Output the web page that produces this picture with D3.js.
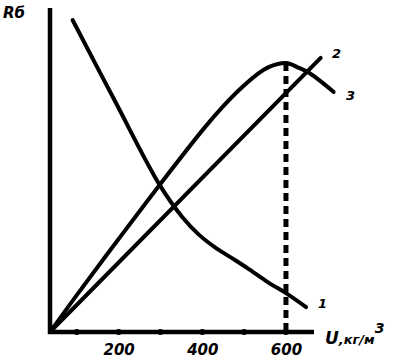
<!DOCTYPE html>
<html><head><meta charset="utf-8">
<script src="https://cdn.jsdelivr.net/npm/d3@7"></script>
<style>body{margin:0;background:#fff}svg{display:block}
text{font-family:"DejaVu Sans",sans-serif;font-weight:bold;font-style:italic;fill:#000}</style>
</head><body>
<script>
// U, kg/m3 and R (relative units 0..100)
const curve1U = [90, 190, 298, 352, 393, 433, 471, 507, 560, 600, 648];
const curve1R = [96.3, 71.6, 45.4, 35.5, 29.9, 25.9, 22.8, 19.8, 15.1, 12.0, 7.7];
const curve2U = [36, 683];
const curve2R = [0, 84.6];
const curve3U = [36, 100, 200, 298, 405, 448, 488, 529, 560, 600, 631, 655, 714];
const curve3R = [0, 11.4, 28.7, 45.4, 63, 69.4, 74.7, 79.3, 81.8, 83.0, 81.5, 80.0, 74.1];
const tickDots = [100, 200, 300, 400, 500, 600];
const tickLabels = [200, 400, 600];
const curveNames = ["1", "2", "3"];
const peakU = 600, peakR = 83.0;

const W = 393, H = 363;
const svg = d3.select("body").append("svg").attr("width", W).attr("height", H);
const x = d3.scaleLinear().domain([36, 667]).range([50, 314]);
const y = d3.scaleLinear().domain([0, 100]).range([332, 8]);

const line = d3.line().x(d => x(d[0])).y(d => y(d[1])).curve(d3.curveCatmullRom.alpha(0.5));
const series = [
  d3.zip(curve1U, curve1R),
  d3.zip(curve2U, curve2R),
  d3.zip(curve3U, curve3R)
];

// axes lines
svg.append("line").attr("x1", x(36)).attr("x2", x(36)).attr("y1", y(100)).attr("y2", y(0) + 2)
  .attr("stroke", "#000").attr("stroke-width", 4.5);
svg.append("line").attr("x1", x(36) - 2).attr("x2", x(667)).attr("y1", y(0)).attr("y2", y(0))
  .attr("stroke", "#000").attr("stroke-width", 4.5);
svg.selectAll("circle.tick").data(tickDots).enter().append("circle")
  .attr("cx", d => x(d)).attr("cy", y(0)).attr("r", 3).attr("fill", "#000");

// tick labels via axis
const ax = svg.append("g").attr("transform", `translate(0,${y(0) + 9})`)
  .call(d3.axisBottom(x).tickValues(tickLabels).tickSize(0).tickPadding(0).tickFormat(d3.format("d")));
ax.select(".domain").remove();
ax.selectAll("text").attr("font-size", 15).attr("dy", "0.95em").style("font-family", "DejaVu Sans");

// dashed line at peak
svg.append("line").attr("x1", x(peakU)).attr("x2", x(peakU)).attr("y1", y(peakR)).attr("y2", y(0))
  .attr("stroke", "#000").attr("stroke-width", 5).attr("stroke-dasharray", "8,5");

// curves
svg.selectAll("path.c").data(series).enter().append("path")
  .attr("d", line).attr("fill", "none").attr("stroke", "#000")
  .attr("stroke-width", 4).attr("stroke-linecap", "round").attr("stroke-linejoin", "round");

// curve labels
const lblPos = [[318, 308], [332, 58], [346, 100]];
svg.selectAll("text.cl").data(curveNames).enter().append("text")
  .attr("x", (d, i) => lblPos[i][0]).attr("y", (d, i) => lblPos[i][1])
  .attr("font-size", 13).text(d => d);

// axis titles
const ry = svg.append("text").attr("x", 3).attr("y", 18).attr("font-size", 15);
ry.append("tspan").text("R");
ry.append("tspan").text("б");
const ux = svg.append("text").attr("x", 325).attr("y", 344);
ux.append("tspan").attr("font-size", 17).text("U");
ux.append("tspan").attr("font-size", 13).text(",кг/м");
ux.append("tspan").attr("font-size", 14).attr("dy", -11).text("3");
</script>
</body></html>
